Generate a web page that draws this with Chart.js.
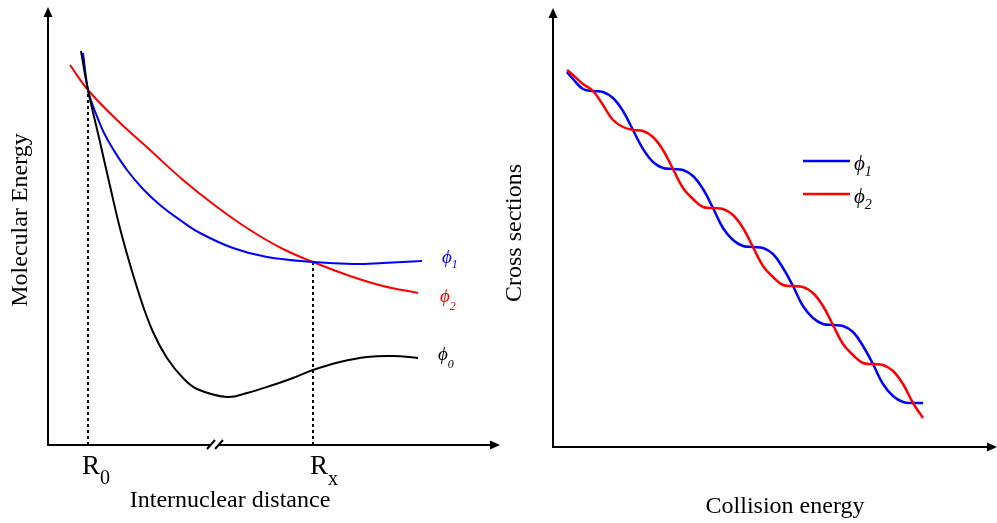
<!DOCTYPE html>
<html>
<head>
<meta charset="utf-8">
<script src="https://cdn.jsdelivr.net/npm/chart.js@4.4.1/dist/chart.umd.min.js"></script>
<style>
  html, body { margin: 0; padding: 0; background: #fff; }
  #wrap { position: relative; width: 997px; height: 523px; }
  #potChart { position: absolute; left: 0; top: 0; }
  #crossChart { position: absolute; left: 500px; top: 0; }
</style>
</head>
<body>
<div id="wrap">
  <canvas id="potChart" width="500" height="523"></canvas>
  <canvas id="crossChart" width="497" height="523"></canvas>
</div>
<script>
// potential curves: internuclear distance vs molecular energy (arbitrary units)
const dist0 = [33, 40, 52, 62, 74, 92, 105, 119, 135, 149, 179, 199, 225, 245, 265, 292, 319, 345, 370];
const energy0 = [394, 355, 303, 259, 209, 148, 113, 87, 67, 56, 48, 52, 60, 67, 75, 83, 88, 89, 87];
const dist1 = [35, 40, 45, 50, 56, 65, 79, 95, 112, 132, 152, 185, 219, 265, 305, 335, 374];
const energy1 = [392, 355, 339, 326, 312, 296, 275, 256, 240, 225, 212, 197, 188, 183, 181, 182, 184];
const dist2 = [22, 40, 69, 102, 135, 169, 202, 235, 265, 302, 335, 370];
const energy2 = [380, 355, 325, 295, 265, 238, 215, 196, 183, 169, 159, 152];

// crossing points marked on the distance axis
const R0 = 40, R0energy = 355;
const Rx = 265, RxEnergy = 183;

// cross sections vs collision energy
const collision = [14, 20, 30, 40, 50, 60, 70, 80, 90, 100, 110, 120, 130, 140, 150, 160, 170, 180, 190,
  200, 210, 220, 230, 240, 250, 260, 270, 280, 290, 300, 310, 320, 330, 340, 350, 360, 370];
const sigma1 = [375, 368, 358, 356, 355, 349, 336, 317, 298, 285, 279, 278, 277, 271, 258, 239, 219, 207, 201,
  200, 199, 193, 179, 161, 141, 129, 123, 122, 121, 115, 101, 83, 63, 51, 45, 44, 44];
const sigma2 = [377, 372, 363, 356, 342, 327, 320, 317, 316, 310, 297, 278, 259, 248, 240, 239, 238, 232, 219,
  200, 181, 170, 162, 161, 160, 154, 141, 122, 103, 92, 84, 83, 82, 76, 63, 44, 29];

const serif = "'Liberation Serif', 'Times New Roman', serif";
const BLUE = '#0000ff', RED = '#ff0000', BLACK = '#000000';
const PHI = '\u03D5';

function pts(xs, ys) {
  return xs.map((x, i) => ({ x: x, y: ys[i] }));
}

function curve(label, xs, ys, color, width, order) {
  return {
    label: label,
    data: pts(xs, ys),
    borderColor: color,
    borderWidth: width,
    pointRadius: 0,
    tension: 0.4,
    fill: false,
    order: order
  };
}

function dropLine(x, y) {
  return {
    label: 'drop',
    data: [{ x: x, y: 0 }, { x: x, y: y }],
    borderColor: BLACK,
    borderWidth: 2,
    borderDash: [3, 3],
    pointRadius: 0,
    fill: false,
    order: 9
  };
}

function axis(min, max) {
  return {
    type: 'linear',
    min: min,
    max: max,
    grid: { display: false, drawTicks: false },
    ticks: { display: false },
    border: { display: true, color: BLACK, width: 2 }
  };
}

function arrowUp(ctx, x, y) {
  ctx.beginPath();
  ctx.moveTo(x, y);
  ctx.lineTo(x - 4.5, y + 10);
  ctx.lineTo(x + 4.5, y + 10);
  ctx.closePath();
  ctx.fill();
}

function arrowRight(ctx, x, y) {
  ctx.beginPath();
  ctx.moveTo(x, y);
  ctx.lineTo(x - 10, y - 4.5);
  ctx.lineTo(x - 10, y + 4.5);
  ctx.closePath();
  ctx.fill();
}

// text with a lowered subscript, left aligned on the baseline
function withSub(ctx, main, sub, x, y, size, subSize, drop, italic) {
  const style = italic ? 'italic ' : '';
  ctx.textAlign = 'left';
  ctx.textBaseline = 'alphabetic';
  ctx.font = style + size + 'px ' + serif;
  ctx.fillText(main, x, y);
  const w = ctx.measureText(main).width;
  ctx.font = style + subSize + 'px ' + serif;
  ctx.fillText(sub, x + w, y + drop);
}

function verticalTitle(ctx, text, x, y) {
  ctx.save();
  ctx.translate(x, y);
  ctx.rotate(-Math.PI / 2);
  ctx.textAlign = 'center';
  ctx.textBaseline = 'alphabetic';
  ctx.font = '24px ' + serif;
  ctx.fillText(text, 0, 0);
  ctx.restore();
}

const potDecor = {
  id: 'potDecor',
  afterDraw(chart) {
    const ctx = chart.ctx;
    const a = chart.chartArea;
    const xs = chart.scales.x;
    ctx.save();
    ctx.fillStyle = BLACK;
    arrowUp(ctx, a.left, a.top - 9);
    arrowRight(ctx, a.right + 9, a.bottom);

    // axis break
    ctx.fillStyle = '#fff';
    ctx.fillRect(211, a.bottom - 3, 7, 6);
    ctx.strokeStyle = BLACK;
    ctx.lineWidth = 2;
    ctx.beginPath();
    ctx.moveTo(207, a.bottom + 4); ctx.lineTo(215, a.bottom - 5);
    ctx.moveTo(215, a.bottom + 4); ctx.lineTo(223, a.bottom - 5);
    ctx.stroke();

    ctx.fillStyle = BLACK;
    withSub(ctx, 'R', '0', xs.getPixelForValue(R0) - 6, 474, 27, 20, 10, false);
    withSub(ctx, 'R', 'x', xs.getPixelForValue(Rx) - 3, 474, 27, 20, 11, false);

    ctx.font = '24px ' + serif;
    ctx.textAlign = 'center';
    ctx.fillText('Internuclear distance', 230, 507);
    verticalTitle(ctx, 'Molecular Energy', 27, 220);

    ctx.fillStyle = BLUE;
    withSub(ctx, PHI, '1', 442, 263, 19, 12, 5, true);
    ctx.fillStyle = RED;
    withSub(ctx, PHI, '2', 440, 302, 19, 12, 8, true);
    ctx.fillStyle = BLACK;
    withSub(ctx, PHI, '0', 438, 360, 19, 12, 8, true);
    ctx.restore();
  }
};

const crossDecor = {
  id: 'crossDecor',
  afterDraw(chart) {
    const ctx = chart.ctx;
    const a = chart.chartArea;
    ctx.save();
    ctx.fillStyle = BLACK;
    arrowUp(ctx, a.left, a.top - 9);
    arrowRight(ctx, a.right + 9, a.bottom);

    ctx.font = '24px ' + serif;
    ctx.textAlign = 'center';
    ctx.fillText('Collision energy', 285, 513);
    verticalTitle(ctx, 'Cross sections', 21, 233);

    // legend
    ctx.lineWidth = 2.5;
    ctx.strokeStyle = BLUE;
    ctx.beginPath(); ctx.moveTo(303, 161); ctx.lineTo(350, 161); ctx.stroke();
    ctx.strokeStyle = RED;
    ctx.beginPath(); ctx.moveTo(303, 194); ctx.lineTo(350, 194); ctx.stroke();
    ctx.fillStyle = BLACK;
    withSub(ctx, PHI, '1', 354, 170, 21, 14, 6, true);
    withSub(ctx, PHI, '2', 354, 203, 21, 14, 6, true);
    ctx.restore();
  }
};

new Chart(document.getElementById('potChart'), {
  type: 'line',
  data: {
    datasets: [
      curve('phi0', dist0, energy0, BLACK, 2, 1),
      curve('phi1', dist1, energy1, BLUE, 2, 2),
      curve('phi2', dist2, energy2, RED, 2, 3),
      dropLine(R0, R0energy),
      dropLine(Rx, RxEnergy)
    ]
  },
  options: {
    responsive: false,
    animation: false,
    layout: { padding: { left: 48, right: 9, top: 16, bottom: 78 } },
    plugins: { legend: { display: false }, tooltip: { enabled: false } },
    scales: { x: axis(0, 443), y: axis(0, 429) }
  },
  plugins: [potDecor]
});

new Chart(document.getElementById('crossChart'), {
  type: 'line',
  data: {
    datasets: [
      curve('phi1', collision, sigma1, BLUE, 2.5, 2),
      curve('phi2', collision, sigma2, RED, 2.5, 1)
    ]
  },
  options: {
    responsive: false,
    animation: false,
    layout: { padding: { left: 53, right: 9, top: 17, bottom: 76 } },
    plugins: { legend: { display: false }, tooltip: { enabled: false } },
    scales: { x: axis(0, 435), y: axis(0, 430) }
  },
  plugins: [crossDecor]
});
</script>
</body>
</html>
